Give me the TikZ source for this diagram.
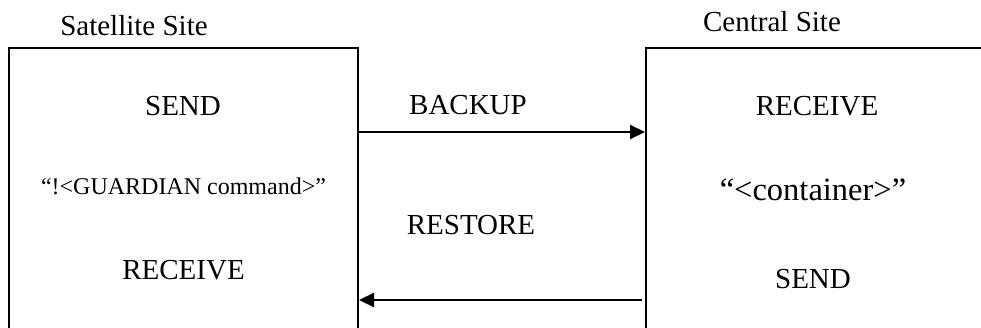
\documentclass[tikz,border=0pt]{standalone}
\usepackage{fontspec}
\setmainfont{Liberation Serif}
\usetikzlibrary{arrows.meta}
\begin{document}
\begin{tikzpicture}[x=1pt,y=-1pt,
  boxline/.style={line width=1.6pt},
  flow/.style={line width=2.2pt,-{Triangle[length=15pt,width=14pt]}},
  lbl/.style={anchor=base,inner sep=0pt,font=\fontsize{29}{34}\selectfont},
  small/.style={anchor=base,inner sep=0pt,font=\fontsize{24}{28}\selectfont},
  big/.style={anchor=base,inner sep=0pt,font=\fontsize{32.5}{38}\selectfont}]
\useasboundingbox (0,0) rectangle (981,327);
% boxes (open at bottom / right as in the reference)
\draw[boxline] (9,328) -- (9,48) -- (358,48) -- (358,328);
\draw[boxline] (646,328) -- (646,48) -- (982,48);
% titles
\node[lbl] (sat) at (134,35) {Satellite Site};
\node[lbl] (cen) at (772,31) {Central Site};
% left box contents
\node[lbl] (lsend) at (183,115) {SEND};
\node[small] (guard) at (183.5,194) {“!<GUARDIAN command>”};
\node[lbl] (lrecv) at (183.5,279) {RECEIVE};
% right box contents
\node[lbl] (rrecv) at (817,115) {RECEIVE};
\node[big] (cont) at (813,200) {“<container>”};
\node[lbl] (rsend) at (813,288) {SEND};
% arrow labels
\node[lbl] (backup) at (468,114) {BACKUP};
\node[lbl] (restore) at (471,234) {RESTORE};
% connector end points on the box edges
\coordinate (bstart) at (358,132);
\coordinate (bend) at (645,132);
\coordinate (rstart) at (642,300);
\coordinate (rend) at (359,300);
\draw[flow] (bstart) -- (bend);
\draw[flow] (rstart) -- (rend);
\end{tikzpicture}
\end{document}
